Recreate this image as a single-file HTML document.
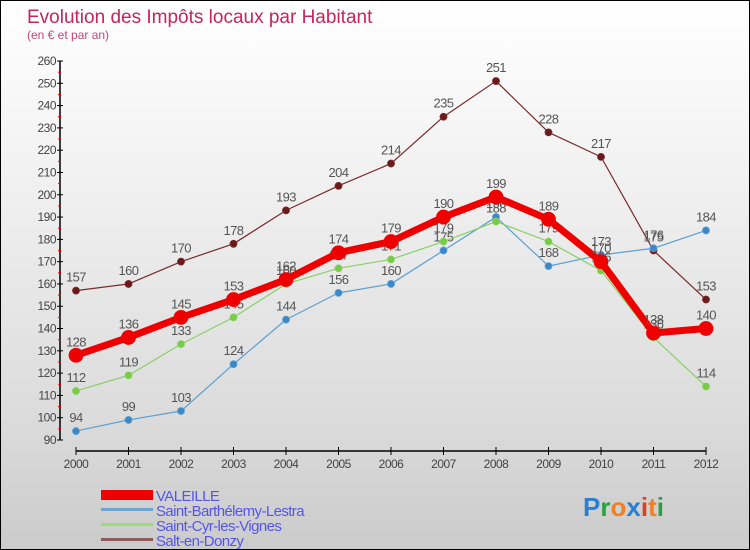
<!DOCTYPE html>
<html><head><meta charset="utf-8">
<style>
html,body{margin:0;padding:0}
body{width:750px;height:550px;overflow:hidden;font-family:"Liberation Sans",sans-serif}
#wrap{position:relative;width:748px;height:548px;border:1px solid #000;background:linear-gradient(#fff,#f2f2f2 30%,#dcdcdc 75%,#cbcbcb)}
svg{position:absolute;left:0;top:0}
</style></head><body>
<div id="wrap">
<svg id="c" width="748" height="548">
<text x="26" y="22" font-size="19" fill="#c8245c">Evolution des Impôts locaux par Habitant</text>
<text x="26" y="38" font-size="12" fill="#c8447a">(en € et par an)</text>
<g id="axes"></g><g id="series"></g>
<g>
<rect x="100" y="489" width="52" height="10" fill="#e00"/>
<text x="155" y="500" font-size="15" fill="#5555ee" letter-spacing="-0.6">VALEILLE</text>
<rect x="100" y="507" width="52" height="3" fill="#6aa5d3"/>
<text x="155" y="515" font-size="15" fill="#5555ee" letter-spacing="-0.6">Saint-Barthélemy-Lestra</text>
<rect x="100" y="522" width="52" height="3" fill="#99dd77"/>
<text x="155" y="530" font-size="15" fill="#5555ee" letter-spacing="-0.6">Saint-Cyr-les-Vignes</text>
<rect x="100" y="537" width="52" height="3" fill="#8b5a5a"/>
<text x="155" y="545" font-size="15" fill="#5555ee" letter-spacing="-0.6">Salt-en-Donzy</text>
</g>
<text x="582" y="515" font-size="26" font-weight="bold"><tspan fill="#2a7fd0">P</tspan><tspan fill="#2aa040">r</tspan><tspan fill="#f08020">o</tspan><tspan fill="#2a7fd0">x</tspan><tspan fill="#e04020">i</tspan><tspan fill="#f08020">t</tspan><tspan fill="#2aa040">i</tspan></text>
</svg></div>
<script>
const years=[2000,2001,2002,2003,2004,2005,2006,2007,2008,2009,2010,2011,2012];
const valeille=[128,136,145,153,162,174,179,190,199,189,170,138,140];
const stBarth=[94,99,103,124,144,156,160,175,190,168,173,176,184];
const stCyr=[112,119,133,145,160,167,171,179,188,179,166,136,114];
const salt=[157,160,170,178,193,204,214,235,251,228,217,175,153];
const yTicks=[90,100,110,120,130,140,150,160,170,180,190,200,210,220,230,240,250,260];
const NS="http://www.w3.org/2000/svg";
const X=i=>75+i*52.5, Y=v=>439-(v-90)*(379/170);
function mk(t,a,p){const e=document.createElementNS(NS,t);for(const k in a)e.setAttribute(k,a[k]);p.appendChild(e);return e;}
const ax=document.getElementById('axes'), sg=document.getElementById('series');
let e=mk('line',{x1:59,y1:Y(260),x2:59,y2:Y(90),stroke:'#000','stroke-width':1.5},ax);


e=mk('line',{x1:X(0),y1:450,x2:X(12),y2:450,stroke:'#000','stroke-width':1.5},ax);


yTicks.forEach((v,i)=>{
  mk('line',{x1:56,y1:Y(v),x2:62,y2:Y(v),stroke:'#000'},ax);
  if(i<yTicks.length-1) mk('line',{x1:57,y1:Y(v+5),x2:60,y2:Y(v+5),stroke:'#e00'},ax);
  const t=mk('text',{x:55,y:Y(v)+4,'font-size':12,fill:'#444','text-anchor':'end','letter-spacing':'-0.5'},ax);
  t.textContent=v;
  
  
});
years.forEach((y,i)=>{
  mk('line',{x1:X(i),y1:446,x2:X(i),y2:454,stroke:'#000'},ax);
  const t=mk('text',{x:X(i),y:467,'font-size':12,fill:'#444','text-anchor':'middle','letter-spacing':'-0.5'},ax);
  t.textContent=y;
  
  
});
function series(data,color,w,r,dot,name){
  const g=mk('g',{},sg);
  
  
  const l=mk('polyline',{points:data.map((v,i)=>X(i)+','+Y(v)).join(' '),fill:'none',stroke:color,'stroke-width':w,'stroke-linejoin':'round'},g);
  
  
  data.forEach((v,i)=>{
    const c=mk('circle',{cx:X(i),cy:Y(v),r:r,fill:dot,stroke:color,'stroke-width':0.8},g);
    
    
    const t=mk('text',{x:X(i),y:Y(v)-9,'font-size':13,fill:'#555','text-anchor':'middle','letter-spacing':'-0.6'},g);
    t.textContent=v;
    
    
  });
}
series(salt,'#7a2a2a',1.2,3.5,'#6a1a1a','salt-en-donzy');
series(stBarth,'#5a9fd4',1.2,3.5,'#3a88c8','saint-barthelemy');
series(stCyr,'#88d066',1.2,3.5,'#77cc44','saint-cyr');
series(valeille,'#ee0000',7,7,'#ee0000','valeille');
</script>
</body></html>
